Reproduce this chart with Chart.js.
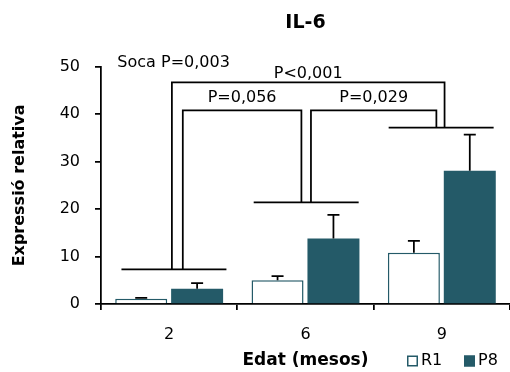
<!DOCTYPE html>
<html>
<head>
<meta charset="utf-8">
<script src="https://cdn.jsdelivr.net/npm/chart.js@4/dist/chart.umd.min.js"></script>
<style>
  html, body { margin: 0; padding: 0; background: #fff; }
  #wrap { width: 510px; height: 372px; }
</style>
</head>
<body>
<div id="wrap"><canvas id="chart"></canvas></div>
<script>
const FONT = '"DejaVu Sans", sans-serif';
const TEAL = '#245a68';

// Data
const categories = ['2', '6', '9'];
const seriesNames = ['R1', 'P8'];
const r1Values = [1.1, 5.0, 10.8];
const r1Errors = [0.2, 0.9, 2.5];
const p8Values = [3.2, 13.8, 28.1];
const p8Errors = [1.2, 5.0, 7.6];

// significance brackets (x in category index units)
const groupLineLevels = [7.3, 21.4, 37.2];
const groupLineFrom = [-0.35, 0.62, 1.61];
const groupLineTo = [0.42, 1.39, 2.38];
const bracketLabels = ['P=0,056', 'P=0,029', 'P<0,001'];
const bracketFrom = [0.10, 1.04, 0.02];
const bracketTo = [0.97, 1.96, 2.02];
const bracketFromGroup = [0, 1, 0];
const bracketToGroup = [1, 2, 2];
const bracketTop = [40.8, 40.8, 46.7];
const overallLabel = 'Soca P=0,003';

const errorBars = {
  id: 'errorBars',
  afterDatasetsDraw(chart) {
    const ctx = chart.ctx;
    const y = chart.scales.y;
    ctx.save();
    ctx.strokeStyle = '#000';
    ctx.lineWidth = 1.75;
    [[0, r1Values, r1Errors], [1, p8Values, p8Errors]].forEach(([idx, vals, errs]) => {
      chart.getDatasetMeta(idx).data.forEach((bar, i) => {
        const top = y.getPixelForValue(vals[i] + errs[i]);
        ctx.beginPath();
        ctx.moveTo(bar.x, bar.y);
        ctx.lineTo(bar.x, top);
        ctx.moveTo(bar.x - 6, top);
        ctx.lineTo(bar.x + 6, top);
        ctx.stroke();
      });
    });
    ctx.restore();
  },
};

const brackets = {
  id: 'brackets',
  afterDatasetsDraw(chart) {
    const ctx = chart.ctx;
    const x = chart.scales.x;
    const y = chart.scales.y;
    ctx.save();
    ctx.strokeStyle = '#000';
    ctx.lineWidth = 1.75;
    groupLineLevels.forEach((lvl, i) => {
      ctx.beginPath();
      ctx.moveTo(x.getPixelForValue(groupLineFrom[i]), y.getPixelForValue(lvl));
      ctx.lineTo(x.getPixelForValue(groupLineTo[i]), y.getPixelForValue(lvl));
      ctx.stroke();
    });
    bracketLabels.forEach((lab, i) => {
      const xa = x.getPixelForValue(bracketFrom[i]);
      const xb = x.getPixelForValue(bracketTo[i]);
      const yt = y.getPixelForValue(bracketTop[i]);
      ctx.beginPath();
      ctx.moveTo(xa, y.getPixelForValue(groupLineLevels[bracketFromGroup[i]]));
      ctx.lineTo(xa, yt);
      ctx.lineTo(xb, yt);
      ctx.lineTo(xb, y.getPixelForValue(groupLineLevels[bracketToGroup[i]]));
      ctx.stroke();
    });
    ctx.restore();
  },
};

const annotations = {
  id: 'annotations',
  afterDraw(chart) {
    const ctx = chart.ctx;
    const x = chart.scales.x;
    const y = chart.scales.y;
    const a = chart.chartArea;
    ctx.save();
    ctx.fillStyle = '#000';
    ctx.font = '16px ' + FONT;
    ctx.textBaseline = 'middle';
    ctx.textAlign = 'center';
    const gaps = [13, 13, 9];
    bracketLabels.forEach((lab, i) => {
      const cx = x.getPixelForValue((bracketFrom[i] + bracketTo[i]) / 2);
      ctx.fillText(lab, cx, y.getPixelForValue(bracketTop[i]) - gaps[i]);
    });
    ctx.textAlign = 'left';
    ctx.fillText(overallLabel, x.getPixelForValue(-0.38), y.getPixelForValue(50.9));

    // bottom row: x axis title + legend
    const rowY = chart.height - 11;
    ctx.textAlign = 'center';
    ctx.font = 'bold 17px ' + FONT;
    ctx.fillText('Edat (mesos)', (a.left + a.right) / 2, rowY);

    ctx.font = '16px ' + FONT;
    ctx.textAlign = 'left';
    let lx = a.right - 103;
    seriesNames.forEach((name, i) => {
      const ds = chart.data.datasets[i];
      ctx.fillStyle = ds.backgroundColor;
      ctx.fillRect(lx, rowY - 5.5, 11, 11);
      ctx.strokeStyle = ds.borderColor;
      ctx.lineWidth = 1.5;
      ctx.strokeRect(lx + 0.75, rowY - 4.75, 9.5, 9.5);
      ctx.fillStyle = '#000';
      ctx.fillText(name, lx + 14, rowY);
      lx += 57;
    });
    ctx.restore();
  },
};

new Chart(document.getElementById('chart'), {
  type: 'bar',
  data: {
    labels: categories,
    datasets: [
      {
        label: seriesNames[0],
        data: r1Values,
        backgroundColor: '#fff',
        borderColor: TEAL,
        borderWidth: 1.5,
        categoryPercentage: 0.82,
        barPercentage: 0.93,
      },
      {
        label: seriesNames[1],
        data: p8Values,
        backgroundColor: TEAL,
        borderColor: TEAL,
        borderWidth: 0,
        categoryPercentage: 0.82,
        barPercentage: 0.93,
      },
    ],
  },
  options: {
    responsive: true,
    maintainAspectRatio: false,
    animation: false,
    layout: {padding: {left: 0, right: 0, top: 0, bottom: 28}},
    plugins: {
      title: {
        display: true,
        fullSize: false,
        text: 'IL-6',
        color: '#000',
        font: {family: FONT, size: 19, weight: 'bold'},
        padding: {top: 12, bottom: 32},
      },
      legend: {display: false},
      tooltip: {enabled: false},
    },
    scales: {
      x: {
        offset: true,
        grid: {drawOnChartArea: false, tickLength: 6, color: '#000', lineWidth: 1.75},
        border: {color: '#000', width: 1.75},
        ticks: {color: '#000', font: {family: FONT, size: 16}, padding: 15},
        afterFit(scale) { scale.height = 40; },
      },
      y: {
        min: 0,
        max: 50,
        ticks: {stepSize: 10, color: '#000', font: {family: FONT, size: 16}, padding: 15},
        grid: {drawOnChartArea: false, tickLength: 6, color: '#000', lineWidth: 1.75},
        border: {color: '#000', width: 1.75},
        title: {
          display: true,
          text: 'Expressió relativa',
          color: '#000',
          font: {family: FONT, size: 16, weight: 'bold'},
          padding: {top: 10, bottom: 0},
        },
        afterFit(scale) { scale.width = 101; },
      },
    },
  },
  plugins: [errorBars, brackets, annotations],
});
</script>
</body>
</html>
